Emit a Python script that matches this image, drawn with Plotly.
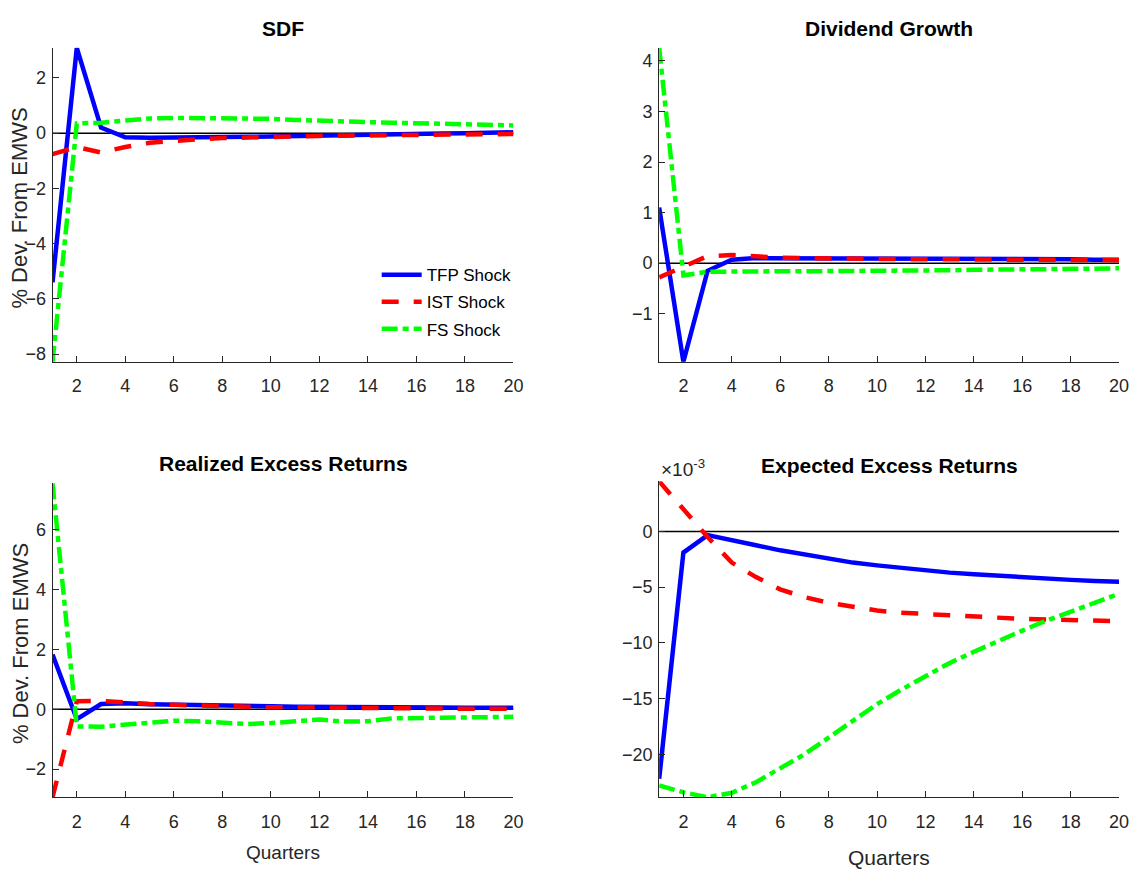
import plotly.graph_objects as go

quarters = list(range(1, 21))
x_ticks = list(range(2, 21, 2))

sdf_tfp = [-5.4, 3.09, 0.2, -0.15, -0.17, -0.17, -0.16, -0.15, -0.13, -0.12, -0.1, -0.09, -0.07, -0.06, -0.04, -0.03, -0.01, 0.0, 0.02, 0.03]
sdf_ist = [-0.76, -0.5, -0.7, -0.5, -0.35, -0.27, -0.22, -0.18, -0.15, -0.13, -0.11, -0.1, -0.09, -0.08, -0.07, -0.06, -0.05, -0.04, -0.04, -0.03]
sdf_fs = [-8.28, 0.35, 0.38, 0.46, 0.53, 0.55, 0.55, 0.54, 0.53, 0.52, 0.48, 0.44, 0.42, 0.40, 0.38, 0.36, 0.34, 0.33, 0.31, 0.28]

div_tfp = [1.1, -1.95, -0.15, 0.07, 0.1, 0.1, 0.1, 0.09, 0.09, 0.09, 0.09, 0.08, 0.08, 0.08, 0.08, 0.08, 0.08, 0.08, 0.07, 0.07]
div_ist = [-0.28, -0.06, 0.14, 0.16, 0.13, 0.11, 0.1, 0.09, 0.09, 0.08, 0.08, 0.08, 0.07, 0.07, 0.07, 0.07, 0.07, 0.06, 0.06, 0.06]
div_fs = [4.26, -0.24, -0.17, -0.16, -0.16, -0.16, -0.16, -0.16, -0.16, -0.15, -0.15, -0.14, -0.14, -0.13, -0.13, -0.12, -0.12, -0.11, -0.11, -0.1]

rer_tfp = [1.83, -0.33, 0.18, 0.2, 0.17, 0.15, 0.13, 0.12, 0.11, 0.1, 0.09, 0.09, 0.08, 0.07, 0.07, 0.06, 0.06, 0.05, 0.05, 0.05]
rer_ist = [-2.94, 0.27, 0.28, 0.22, 0.18, 0.15, 0.12, 0.1, 0.09, 0.07, 0.06, 0.05, 0.04, 0.04, 0.03, 0.03, 0.02, 0.02, 0.02, 0.02]
rer_fs = [7.56, -0.57, -0.58, -0.51, -0.46, -0.38, -0.4, -0.46, -0.49, -0.46, -0.4, -0.34, -0.41, -0.4, -0.3, -0.29, -0.29, -0.28, -0.27, -0.25]

# Expected excess returns, in units of 1e-3
eer_tfp = [-22.2, -1.9, -0.33, -0.75, -1.25, -1.7, -2.1, -2.45, -2.8, -3.05, -3.3, -3.5, -3.7, -3.85, -4.0, -4.12, -4.25, -4.35, -4.45, -4.52]
eer_ist = [4.49, 2.0, -0.5, -2.8, -4.1, -5.2, -5.9, -6.4, -6.8, -7.1, -7.3, -7.4, -7.55, -7.7, -7.78, -7.85, -7.9, -7.95, -8.0, -8.05]
eer_fs = [-22.8, -23.4, -23.85, -23.45, -22.5, -21.3, -20.0, -18.5, -17.0, -15.5, -14.2, -13.0, -11.8, -10.8, -9.8, -8.9, -8.0, -7.2, -6.3, -5.6]

zero_line = [0] * len(quarters)

panels = [
    ("SDF", sdf_tfp, sdf_ist, sdf_fs, [-8, -6, -4, -2, 0, 2]),
    ("Dividend Growth", div_tfp, div_ist, div_fs, [-1, 0, 1, 2, 3, 4]),
    ("Realized Excess Returns", rer_tfp, rer_ist, rer_fs, [-2, 0, 2, 4, 6]),
    ("Expected Excess Returns", eer_tfp, eer_ist, eer_fs, [-20, -15, -10, -5, 0]),
]
series_names = ["TFP Shock", "IST Shock", "FS Shock"]
series_colors = ["rgb(0,0,255)", "rgb(255,0,0)", "rgb(0,255,0)"]
series_dash = ["solid", "17px,15px", "16px,5px,6px,5px"]

W, H = 1142, 872
xdoms = [(53, 518), (665, 1129), (53, 518), (665, 1129)]
ydoms = [(48, 363), (48, 363), (485, 800), (483, 800)]
title_y = [29, 29, 465, 467]

NARROW = "Liberation Sans Narrow, Arial Narrow, Liberation Sans, Arial, sans-serif"
AXCOL = "#262626"

fig = go.Figure()
layout = dict(
    width=W, height=H, autosize=False, margin=dict(l=0, r=0, t=0, b=0),
    paper_bgcolor="white", plot_bgcolor="white", showlegend=True,
    font=dict(family=NARROW, color=AXCOL),
)
annotations = []

for i, (title, s1, s2, s3, yt) in enumerate(panels):
    n = "" if i == 0 else str(i + 1)
    xa, ya = "x" + n, "y" + n
    fig.add_trace(go.Scatter(x=quarters, y=zero_line, mode="lines", xaxis=xa, yaxis=ya,
                             line=dict(color="black", width=1.5), showlegend=False, hoverinfo="skip"))
    for k, s in enumerate((s1, s2, s3)):
        fig.add_trace(go.Scatter(x=quarters, y=s, mode="lines", xaxis=xa, yaxis=ya,
                                 name=series_names[k], showlegend=(i == 0), legendgroup=series_names[k],
                                 line=dict(color=series_colors[k], width=4.5, dash=series_dash[k])))
    allv = list(s1) + list(s2) + list(s3)
    x0, x1 = xdoms[i]
    y0, y1 = ydoms[i]
    layout["xaxis" + n] = dict(
        domain=[x0 / W, x1 / W], range=[quarters[0], quarters[-1]], anchor=ya,
        tickvals=x_ticks, ticks="inside", ticklen=6, tickcolor=AXCOL, tickwidth=1,
        showline=True, linecolor=AXCOL, linewidth=1, showgrid=False, zeroline=False,
        tickfont=dict(size=18, family=NARROW, color=AXCOL), ticklabelstandoff=8,
    )
    layout["yaxis" + n] = dict(
        domain=[1 - y1 / H, 1 - y0 / H], range=[min(allv), max(allv)], anchor=xa,
        tickvals=yt, ticks="inside", ticklen=6, tickcolor=AXCOL, tickwidth=1,
        showline=True, linecolor=AXCOL, linewidth=1, showgrid=False, zeroline=False,
        tickfont=dict(size=18, family=NARROW, color=AXCOL), ticklabelstandoff=2,
    )
    annotations.append(dict(text="<b>" + title + "</b>", x=(x0 + x1) / 2 / W, y=1 - title_y[i] / H,
                            xref="paper", yref="paper", showarrow=False, xanchor="center", yanchor="middle",
                            font=dict(size=21, family=NARROW, color="black")))

# y-axis labels (left column)
for (y0, y1) in (ydoms[0], ydoms[2]):
    annotations.append(dict(text="% Dev. From EMWS", x=20 / W, y=1 - ((y0 + y1) / 2 + 3) / H,
                            xref="paper", yref="paper", showarrow=False, textangle=-90,
                            xanchor="center", yanchor="middle",
                            font=dict(size=22, family="Liberation Sans, Arial, sans-serif", color=AXCOL)))
# x-axis labels (bottom row)
annotations.append(dict(text="Quarters", x=(xdoms[2][0] + xdoms[2][1]) / 2 / W, y=1 - 855 / H,
                        xref="paper", yref="paper", showarrow=False, xanchor="center", yanchor="middle",
                        font=dict(size=19, family=NARROW, color=AXCOL)))
annotations.append(dict(text="Quarters", x=(xdoms[3][0] + xdoms[3][1]) / 2 / W, y=1 - 860 / H,
                        xref="paper", yref="paper", showarrow=False, xanchor="center", yanchor="middle",
                        font=dict(size=21, family=NARROW, color=AXCOL)))
# exponent label
annotations.append(dict(text="×10<sup>-3</sup>", x=665 / W, y=1 - 470 / H, xref="paper", yref="paper",
                        showarrow=False, xanchor="left", yanchor="middle",
                        font=dict(size=19, family=NARROW, color=AXCOL)))

layout["annotations"] = annotations
layout["legend"] = dict(x=380 / W, y=1 - 258 / H, xanchor="left", yanchor="top",
                        bgcolor="rgba(0,0,0,0)", borderwidth=0, tracegroupgap=2,
                        font=dict(size=17, family=NARROW, color="black"), itemwidth=40)
fig.update_layout(**layout)
fig.write_html(
    "out.html",
    config={"displayModeBar": False, "responsive": False},
    post_script="document.body.style.margin='0px';document.body.style.padding='0px';document.body.style.overflow='hidden';",
)
